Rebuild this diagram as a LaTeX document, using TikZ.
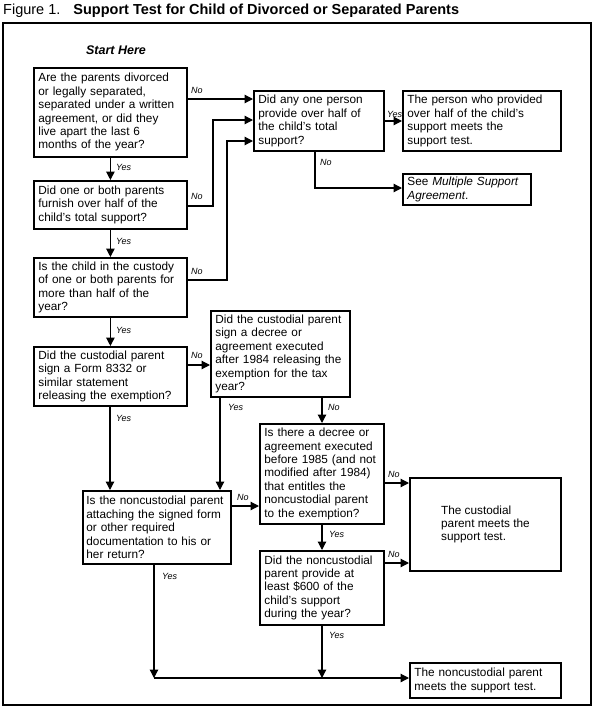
\documentclass[tikz,border=0pt]{standalone}
\usepackage{fontspec}
\setmainfont{Liberation Sans}
\usetikzlibrary{arrows.meta}
\hyphenpenalty=10000
\exhyphenpenalty=10000
\begin{document}
\begin{tikzpicture}[x=1pt,y=-1pt,
  box/.style={draw, line width=1.8pt, anchor=north west, align=left, inner xsep=4.5pt, inner ysep=2pt, font=\fontsize{11.8}{13.4}\selectfont},
  conn/.style={line width=1.2pt},
  arr/.style={conn, -{Triangle[length=8.5pt,width=8.5pt]}},
  lab/.style={font=\fontsize{9}{10}\selectfont\itshape, inner sep=0pt}]
\useasboundingbox (0,0) rectangle (595,709);
\node[anchor=base west, inner sep=0pt, font=\fontsize{14.5}{16}\selectfont] (title) at (3,15) {Figure 1.\hspace{13pt}\textbf{Support Test for Child of Divorced or Separated Parents}};
\draw[line width=1.5pt] (3,23) rectangle (591,705);
\node[font=\fontsize{12.5}{14}\selectfont\bfseries\itshape, inner sep=0pt] (start) at (116,50) {Start Here};

\node[box, text width=144pt, minimum height=89pt] (b1) at (33,67) {Are the parents divorced\\or legally separated,\\separated under a written\\agreement, or did they\\live apart the last 6\\months of the year?};
\node[box, text width=144pt, minimum height=48pt] (b2) at (33,180) {Did one or both parents\\furnish over half of the\\child’s total support?};
\node[box, text width=144pt, minimum height=59pt] (b3) at (33,257) {Is the child in the custody\\of one or both parents for\\more than half of the\\year?};
\node[box, text width=144pt, minimum height=59pt] (b4) at (33,346) {Did the custodial parent\\sign a Form 8332 or\\similar statement\\releasing the exemption?};
\node[box, text width=121pt, minimum height=60pt] (q5) at (253,90) {Did any one person\\provide over half of\\the child’s total\\support?};
\node[box, text width=149pt, minimum height=60pt] (p) at (402,90) {The person who provided\\over half of the child’s\\support meets the\\support test.};
\node[box, text width=119pt, minimum height=31pt] (see) at (402,173) {See \textit{Multiple Support}\\\textit{Agreement}.};
\node[box, text width=130pt, minimum height=86pt] (q6) at (210,310) {Did the custodial parent\\sign a decree or\\agreement executed\\after 1984 releasing the\\exemption for the tax\\year?};
\node[box, text width=115pt, minimum height=100pt] (q7) at (259,423) {Is there a decree or\\agreement executed\\before 1985 (and not\\modified after 1984)\\that entitles the\\noncustodial parent\\to the exemption?};
\node[box, inner xsep=3.5pt, text width=141pt, minimum height=73pt] (q8) at (82,490) {Is the noncustodial parent\\attaching the signed form\\or other required\\documentation to his or\\her return?};
\node[box, minimum width=151pt, minimum height=93pt] (cm) at (409,477) {The custodial\\parent meets the\\support test.};
\node[box, text width=115pt, minimum height=74pt] (q9) at (259,550) {Did the noncustodial\\parent provide at\\least \$600 of the\\child’s support\\during the year?};
\node[box, text width=142pt, minimum height=35pt] (nm) at (409,662) {The noncustodial parent\\meets the support test.};

\coordinate (j1) at (154,678);
\coordinate (j2) at (322,678);

% left column
\draw[arr] (b1.south) -- (b2.north);
\draw[arr] (b2.south) -- (b3.north);
\draw[arr] (b3.south) -- (b4.north);
\draw[arr] (b4.south -| 110,0) -- (q8.north -| 110,0);
\node[lab, anchor=west] (y1) at (116,167) {Yes};
\node[lab, anchor=west] (y2) at (116,241) {Yes};
\node[lab, anchor=west] (y3) at (116,330) {Yes};
\node[lab, anchor=west] (y4) at (116,418) {Yes};

% No branches to q5
\draw[arr] (b1.east |- 0,99) -- (q5.west |- 0,99);
\draw[arr] (b2.east |- 0,206) -- (213,206) -- (213,120) -- (q5.west |- 0,120);
\draw[arr] (b3.east |- 0,280) -- (227,280) -- (227,141) -- (q5.west |- 0,141);
\node[lab, anchor=west] (n1) at (191,90) {No};
\node[lab, anchor=west] (n2) at (191,196) {No};
\node[lab, anchor=west] (n3) at (191,271) {No};

\draw[arr] (q5.east |- 0,121) -- (p.west |- 0,121);
\node[lab, anchor=south west] (y5) at ([xshift=2pt,yshift=3pt]q5.east |- 0,121) {Yes};
\draw[arr] (q5.south -| 315,0) |- (see.west |- 0,188);
\node[lab, anchor=west] (n4) at (320,162) {No};

% custodial part
\draw[arr] (b4.east |- 0,365) -- (q6.west |- 0,365);
\node[lab, anchor=west] (n5) at (191,355) {No};
\draw[arr] (q6.south -| 220,0) -- (q8.north -| 220,0);
\node[lab, anchor=west] (y6) at (228,407) {Yes};
\draw[arr] (q6.south -| 322,0) -- (q7.north -| 322,0);
\node[lab, anchor=west] (n6) at (328,407) {No};
\draw[arr] (q8.east |- 0,506) -- (q7.west |- 0,506);
\node[lab, anchor=west] (n7) at (237,497) {No};
\draw[arr] (q7.east |- 0,483) -- (cm.west |- 0,483);
\node[lab, anchor=west] (n8) at (388,474) {No};
\draw[arr] (q7.south -| 322,0) -- (q9.north -| 322,0);
\node[lab, anchor=west] (y7) at (329,534) {Yes};
\draw[arr] (q9.east |- 0,563) -- (cm.west |- 0,563);
\node[lab, anchor=west] (n9) at (388,554) {No};

% bottom
\draw[arr] (q8.south -| j1) -- (j1);
\node[lab, anchor=west] (y8) at (162,576) {Yes};
\draw[arr] (q9.south -| j2) -- (j2);
\node[lab, anchor=west] (y9) at (329,635) {Yes};
\draw[arr] (j1) -- (nm.west |- j1);
\end{tikzpicture}
\end{document}
